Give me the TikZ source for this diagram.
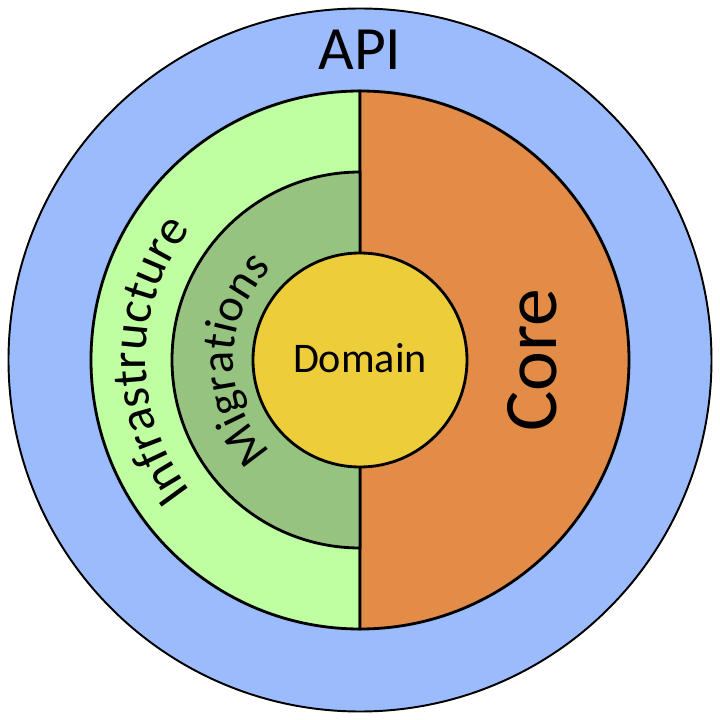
\documentclass[tikz,border=0pt]{standalone}
\usepackage{fontspec}
\setmainfont{Carlito}
\usepackage{xcolor}
\usepackage{tikz}
\usetikzlibrary{calc}
\usetikzlibrary{decorations}
\usetikzlibrary{decorations.text}

\definecolor{apiblue}{RGB}{155,187,253}
\definecolor{infragreen}{RGB}{191,255,161}
\definecolor{miggreen}{RGB}{150,195,128}
\definecolor{coreorange}{RGB}{227,140,72}
\definecolor{domyellow}{RGB}{237,205,58}

\begin{document}
\begin{tikzpicture}[ring/.style={draw=black,line width=1.6pt}]
\useasboundingbox (-7.2,-7.2) rectangle (7.2,7.2);
\coordinate (O) at (0,0);
\coordinate (T) at (0,5.38);
\coordinate (B) at (0,-5.38);
\coordinate (MT) at (0,3.76);
% outer ring
\draw[fill=apiblue,line width=1.1pt] (O) circle (7.03);
% halves
\draw[ring,fill=infragreen] (T) arc (90:270:5.38) -- cycle;
\draw[ring,fill=coreorange] (B) arc (-90:90:5.38) -- cycle;
\draw[ring,fill=miggreen] (MT) arc (90:270:3.76) -- cycle;
\draw[ring,fill=domyellow] (O) circle (2.14);
% labels
\node (api) at (0,6.2) {\fontsize{35}{35}\selectfont API};
\node[rotate=90] (core) at (3.45,0) {\fontsize{43}{43}\selectfont Core};
\node (domain) at (0,0.04) {\fontsize{24}{24}\selectfont Domain};
% curved labels
\path[decorate,decoration={text along path,text align=center,
  text={|\fontsize{28.5}{28.5}\selectfont|Infrastructure}}]
  (O) ++(240:4.28) arc (240:120:4.28);
\path[decorate,decoration={text along path,text align=center,
  text={|\fontsize{26.5}{26.5}\selectfont|Migrations}}]
  (O) ++(250:2.54) arc (250:110:2.54);
\end{tikzpicture}
\end{document}
